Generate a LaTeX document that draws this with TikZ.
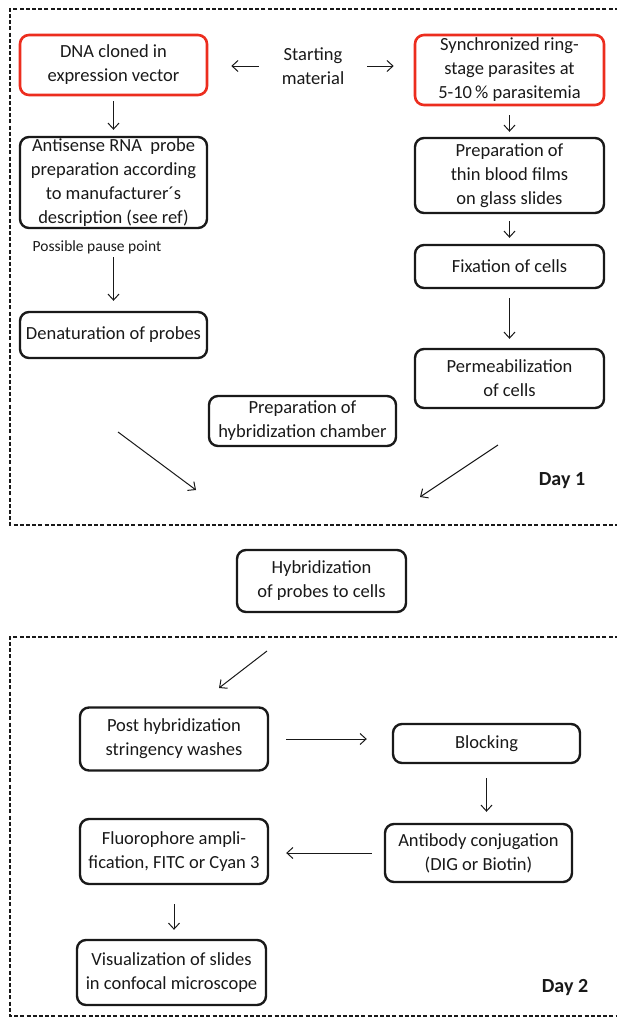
\documentclass[tikz,border=0pt]{standalone}
\usepackage{fontspec}
\setmainfont{Carlito}
\usetikzlibrary{arrows.meta}
\definecolor{boxred}{RGB}{236,45,30}
\definecolor{ink}{RGB}{25,25,25}
\tikzset{
  stepbox/.style={draw=ink, line width=2.4pt, rounded corners=9pt, align=center,
    inner sep=0pt, text=ink, font=\fontsize{18.5}{24}\selectfont},
  redbox/.style={stepbox, draw=boxred, line width=2.6pt},
  plain/.style={align=center, inner sep=0pt, text=ink, font=\fontsize{18.5}{24}\selectfont},
  arr/.style={draw=ink, line width=1pt, -{Straight Barb[length=6pt,width=11pt]}},
  frame/.style={draw=ink, line width=1.5pt, dash pattern=on 4pt off 2.2pt},
  daylab/.style={inner sep=0pt, text=ink, font=\fontsize{20}{24}\selectfont\bfseries}
}
\begin{document}
\begin{tikzpicture}[x=1pt,y=-1pt]
\useasboundingbox (0,0) rectangle (617,1018);
% dashed frames
\draw[frame] (625,9) -- (10,9) -- (10,525) -- (625,525);
\draw[frame] (625,637) -- (10,637) -- (10,1016) -- (625,1016);

% Day 1 nodes
\node[redbox, minimum width=187pt, minimum height=60pt] (dna) at (113.5,65) {DNA cloned in\\expression vector};
\node[plain] (start) at (313,66) {Starting\\material};
\node[redbox, minimum width=189pt, minimum height=70pt] (sync) at (509.5,70) {Synchronized ring-\\stage parasites at\\5-10\,\% parasitemia};
\node[stepbox, minimum width=187pt, minimum height=91pt] (anti) at (113.5,182.5) {Antisense RNA\ \ probe\\preparation according\\to manufacturer´s\\description (see ref)};
\node[inner sep=0pt, text=ink, font=\fontsize{15.5}{18}\selectfont] (pause) at (97,247) {Possible pause point};
\node[stepbox, minimum width=187pt, minimum height=46pt] (den) at (113.5,335) {Denaturation of probes};
\node[stepbox, minimum width=189pt, minimum height=75pt] (prep) at (509.5,175.5) {Preparation of\\thin blood films\\on glass slides};
\node[stepbox, minimum width=189pt, minimum height=43pt] (fix) at (509.5,266.5) {Fixation of cells};
\node[stepbox, minimum width=189pt, minimum height=59pt] (perm) at (509.5,378.5) {Permeabilization\\of cells};
\node[stepbox, minimum width=187pt, minimum height=50pt] (cham) at (302.5,421) {Preparation of\\hybridization chamber};
\node[daylab] (day1) at (562,481) {Day 1};

\coordinate (l1s) at (118,432);
\coordinate (l1e) at (196,490);
\coordinate (r1s) at (498,445);
\coordinate (r1e) at (420,497);

% middle
\node[stepbox, minimum width=169pt, minimum height=62pt] (hyb) at (321.5,581) {Hybridization\\of probes to cells};

% Day 2 nodes
\node[stepbox, minimum width=188pt, minimum height=63pt] (post) at (174,739) {Post hybridization\\stringency washes};
\node[stepbox, minimum width=187pt, minimum height=39pt] (block) at (486.5,743.5) {Blocking};
\node[stepbox, minimum width=187pt, minimum height=58pt] (abc) at (478.5,853) {Antibody conjugation\\(DIG or Biotin)};
\node[stepbox, minimum width=188pt, minimum height=65pt] (fluor) at (174,851.5) {Fluorophore ampli-\\fication, FITC or Cyan 3};
\node[stepbox, minimum width=189pt, minimum height=65pt] (vis) at (171.5,972.5) {Visualization of slides\\in confocal microscope};
\node[daylab] (day2) at (565,988) {Day 2};

\coordinate (h2s) at (267,651);
\coordinate (h2e) at (219,688);

% connectors
\draw[arr, shorten <=23pt, shorten >=23pt] (start.west) -- (start.west -| dna.east);
\draw[arr, shorten <=23pt, shorten >=20pt] (start.east) -- (start.east -| sync.west);
\draw[arr, shorten <=5pt, shorten >=6pt] (dna.south) -- (anti.north);
\draw[arr, shorten <=28pt, shorten >=10pt] (anti.south) -- (den.north);
\draw[arr, shorten <=9pt, shorten >=5pt] (sync.south) -- (prep.north);
\draw[arr, shorten <=7pt, shorten >=6pt] (prep.south) -- (fix.north);
\draw[arr, shorten <=9pt, shorten >=9pt] (fix.south) -- (perm.north);
\draw[arr] (l1s) -- (l1e);
\draw[arr] (r1s) -- (r1e);
\draw[arr] (h2s) -- (h2e);
\draw[arr, shorten <=17pt, shorten >=25pt] (post.east) -- (post.east -| block.west);
\draw[arr, shorten <=14pt, shorten >=11pt] (block.south) -- (block.south |- abc.north);
\draw[arr, shorten <=12pt, shorten >=17pt] (abc.west) -- (abc.west -| fluor.east);
\draw[arr, shorten <=19pt, shorten >=9pt] (fluor.south) -- (fluor.south |- vis.north);
\end{tikzpicture}
\end{document}
